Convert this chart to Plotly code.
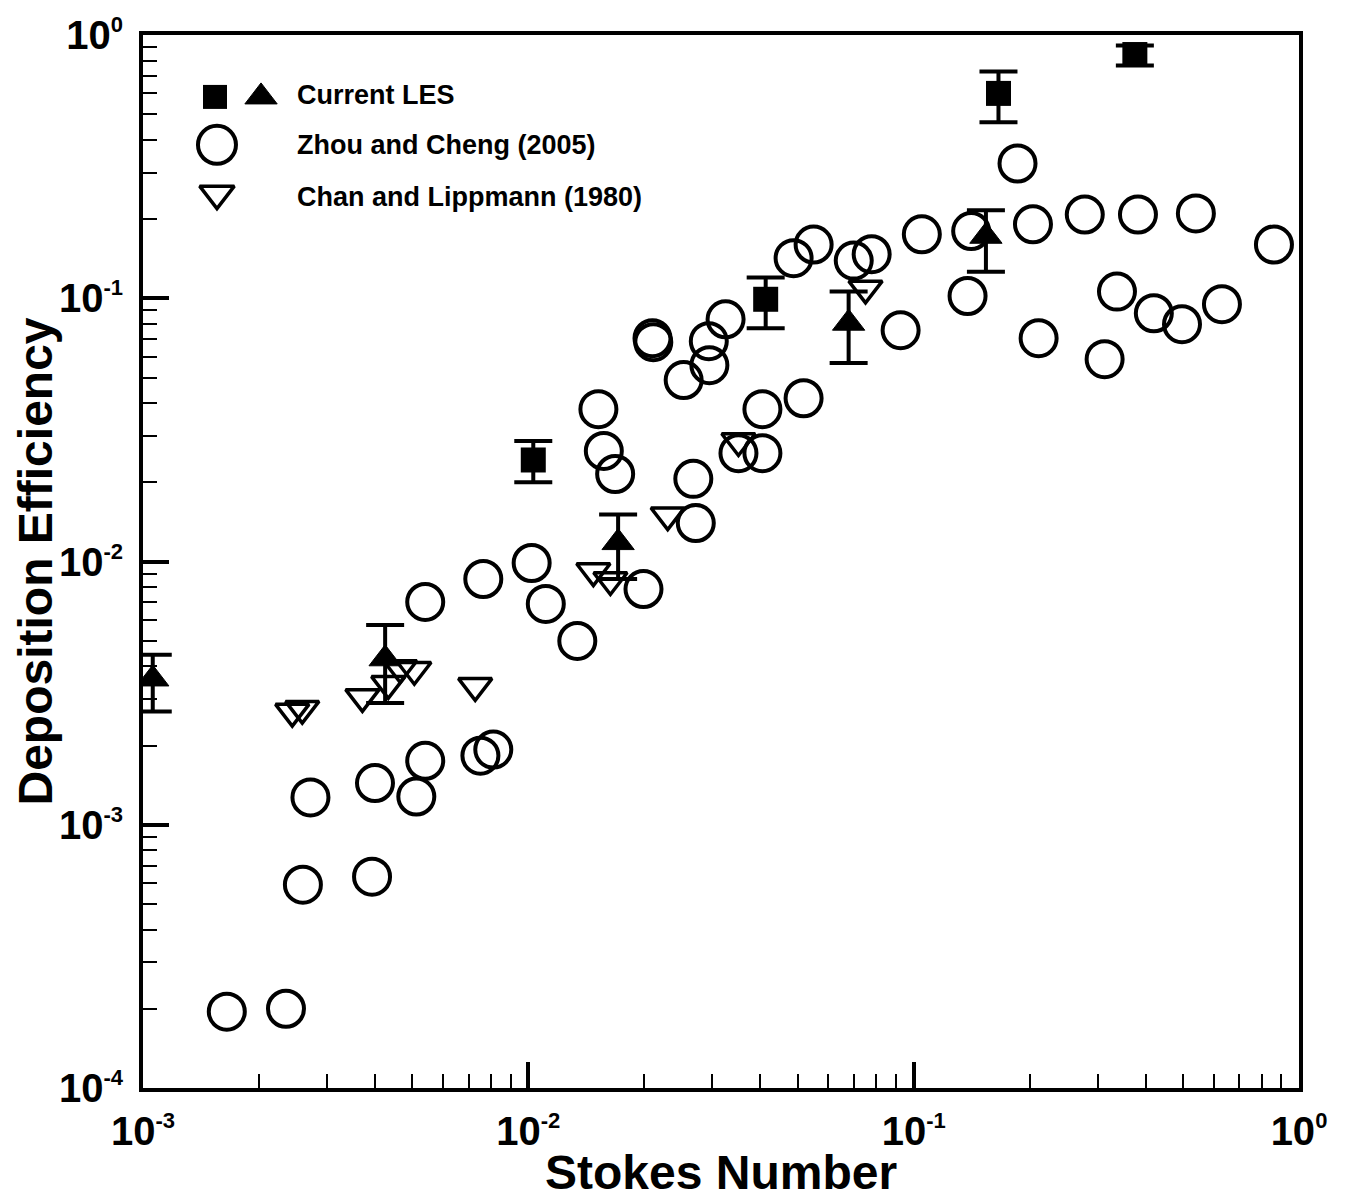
import plotly.graph_objects as go

# ---- Current LES (filled squares) with error bars ----
les_sq_x = [0.0103, 0.0413, 0.166, 0.375]
les_sq_y = [0.0243, 0.0991, 0.600, 0.843]
les_sq_hi = [0.0287, 0.120, 0.727, 0.912]
les_sq_lo = [0.0200, 0.0769, 0.466, 0.766]

# ---- Current LES (filled triangles) with error bars ----
les_tri_x = [0.00106, 0.00425, 0.0171, 0.0678, 0.154]
les_tri_y = [0.00358, 0.00427, 0.0118, 0.0804, 0.172]
les_tri_hi = [0.00442, 0.00574, 0.0151, 0.106, 0.216]
les_tri_lo = [0.00269, 0.00290, 0.00858, 0.0567, 0.126]

# ---- Zhou and Cheng (2005) ----
zhou_x = [0.00165, 0.00235, 0.00260, 0.00393, 0.00272, 0.00400, 0.00512, 0.00540,
          0.00751, 0.00811, 0.00540, 0.00764, 0.0102, 0.0111, 0.0134, 0.0199,
          0.0152, 0.0157, 0.0168, 0.0210, 0.0211, 0.0253, 0.0295, 0.0294,
          0.0325, 0.0268, 0.0272, 0.0351, 0.0405, 0.0405, 0.0518, 0.0488,
          0.0550, 0.0699, 0.0778, 0.0925, 0.105, 0.138, 0.141, 0.186,
          0.204, 0.211, 0.278, 0.313, 0.337, 0.382, 0.420, 0.497,
          0.540, 0.631, 0.861]
zhou_y = [1.95e-4, 2.00e-4, 5.92e-4, 6.35e-4, 1.27e-3, 1.44e-3, 1.28e-3, 1.75e-3,
          1.83e-3, 1.93e-3, 7.02e-3, 8.58e-3, 9.87e-3, 6.90e-3, 4.99e-3, 7.86e-3,
          0.0379, 0.0263, 0.0215, 0.0705, 0.0681, 0.0489, 0.0557, 0.0687,
          0.0832, 0.0206, 0.0140, 0.0258, 0.0258, 0.0379, 0.0417, 0.142,
          0.160, 0.139, 0.147, 0.0756, 0.175, 0.102, 0.180, 0.325,
          0.191, 0.0705, 0.208, 0.0587, 0.106, 0.208, 0.0877, 0.0797,
          0.210, 0.0949, 0.160]

# ---- Chan and Lippmann (1980) ----
chan_x = [0.00244, 0.00259, 0.00371, 0.00433, 0.00465, 0.00506, 0.00728,
          0.01475, 0.01633, 0.0230, 0.0351, 0.0750]
chan_y = [0.00269, 0.00276, 0.00306, 0.00343, 0.00394, 0.00388, 0.00337,
          0.00920, 0.00851, 0.0150, 0.0287, 0.109]

# ---- axis tick labels ----
x_tickvals = [1e-3, 1e-2, 1e-1, 1e0]
x_ticktext = ["-3", "-2", "-1", "0"]
y_tickvals = [1e-4, 1e-3, 1e-2, 1e-1, 1e0]
y_ticktext = ["-4", "-3", "-2", "-1", "0"]

legend_labels = ["Current LES", "Zhou and Cheng (2005)", "Chan and Lippmann (1980)"]

FONT = "Liberation Sans, Arial, sans-serif"
BLACK = "black"


def power_label(exp):
    return "10<sup><span style='font-size:22px'>%s</span></sup>" % exp


def err(y, hi, lo):
    return dict(type="data", symmetric=False,
                array=[h - v for v, h in zip(y, hi)],
                arrayminus=[v - l for v, l in zip(y, lo)],
                width=19, thickness=4, color=BLACK)


fig = go.Figure()

fig.add_trace(go.Scatter(
    x=zhou_x, y=zhou_y, mode="markers",
    marker=dict(symbol="circle-open", size=36, color=BLACK, line=dict(width=4, color=BLACK)),
))
fig.add_trace(go.Scatter(
    x=chan_x, y=chan_y, mode="markers",
    marker=dict(symbol="triangle-down-open", size=29, color=BLACK, line=dict(width=3.5, color=BLACK)),
))
fig.add_trace(go.Scatter(
    x=les_sq_x, y=les_sq_y, mode="markers",
    marker=dict(symbol="square", size=25, color=BLACK, line=dict(width=0)),
    error_y=err(les_sq_y, les_sq_hi, les_sq_lo),
))
fig.add_trace(go.Scatter(
    x=les_tri_x, y=les_tri_y, mode="markers",
    marker=dict(symbol="triangle-up", size=28, color=BLACK, line=dict(width=1, color=BLACK)),
    error_y=err(les_tri_y, les_tri_hi, les_tri_lo),
))

# ---- legend block drawn on an overlay frame (fractions of the plot area) ----
legend_sym = [
    ("square", 0.0623, 0.9412, 24, 0),
    ("triangle-up", 0.1021, 0.9412, 28, 1),
    ("circle-open", 0.0640, 0.8957, 38, 4),
    ("triangle-down-open", 0.0640, 0.8493, 30, 3.5),
]
for sym, lx, ly, sz, lw in legend_sym:
    fig.add_trace(go.Scatter(
        x=[lx], y=[ly], xaxis="x2", yaxis="y2", mode="markers",
        marker=dict(symbol=sym, size=sz, color=BLACK, line=dict(width=lw, color=BLACK)),
        hoverinfo="skip",
    ))

legend_text_y = [0.9431, 0.8957, 0.8464]
annotations = []
for txt, ty in zip(legend_labels, legend_text_y):
    annotations.append(dict(
        text=txt, x=0.1315, y=ty, xref="paper", yref="paper",
        xanchor="left", yanchor="middle", showarrow=False,
        font=dict(family=FONT, size=27, color=BLACK, weight="bold"),
    ))

# axis titles
annotations.append(dict(
    text="Stokes Number", x=0.5, y=-0.0800, xref="paper", yref="paper",
    xanchor="center", yanchor="middle", showarrow=False,
    font=dict(family=FONT, size=48, color=BLACK, weight="bold"),
))
annotations.append(dict(
    text="Deposition Efficiency", x=-0.0934, y=0.5, xref="paper", yref="paper",
    xanchor="center", yanchor="middle", showarrow=False, textangle=-90,
    font=dict(family=FONT, size=48, color=BLACK, weight="bold"),
))

x_minor = [d * 10.0 ** k for k in range(-3, 0) for d in range(2, 10)]
y_minor = [d * 10.0 ** k for k in range(-4, 0) for d in range(2, 10)]

tick_font = dict(family=FONT, size=40, color=BLACK, weight="bold")

fig.update_layout(
    width=1347, height=1198, autosize=False,
    margin=dict(l=143, r=48, t=33, b=110),
    paper_bgcolor="white", plot_bgcolor="white",
    showlegend=False,
    annotations=annotations,
    xaxis=dict(
        type="log", range=[-3, 0],
        tickmode="array", tickvals=x_tickvals, ticktext=[power_label(e) for e in x_ticktext],
        ticks="inside", ticklen=26, tickwidth=4, tickcolor=BLACK,
        minor=dict(tickmode="array", tickvals=x_minor, ticks="inside", ticklen=14,
                   tickwidth=1.5, tickcolor=BLACK, showgrid=False),
        showline=True, linewidth=4, linecolor=BLACK, mirror=True,
        showgrid=False, zeroline=False,
        tickfont=tick_font, ticklabelstandoff=5,
    ),
    yaxis=dict(
        type="log", range=[-4, 0],
        tickmode="array", tickvals=y_tickvals, ticktext=[power_label(e) for e in y_ticktext],
        ticks="inside", ticklen=26, tickwidth=4, tickcolor=BLACK,
        minor=dict(tickmode="array", tickvals=y_minor, ticks="inside", ticklen=14,
                   tickwidth=1.5, tickcolor=BLACK, showgrid=False),
        showline=True, linewidth=4, linecolor=BLACK, mirror=True,
        showgrid=False, zeroline=False,
        tickfont=tick_font, ticklabelstandoff=8,
    ),
    xaxis2=dict(overlaying="x", range=[0, 1], visible=False, fixedrange=True),
    yaxis2=dict(overlaying="y", range=[0, 1], visible=False, fixedrange=True),
)

fig.write_html("out.html")
